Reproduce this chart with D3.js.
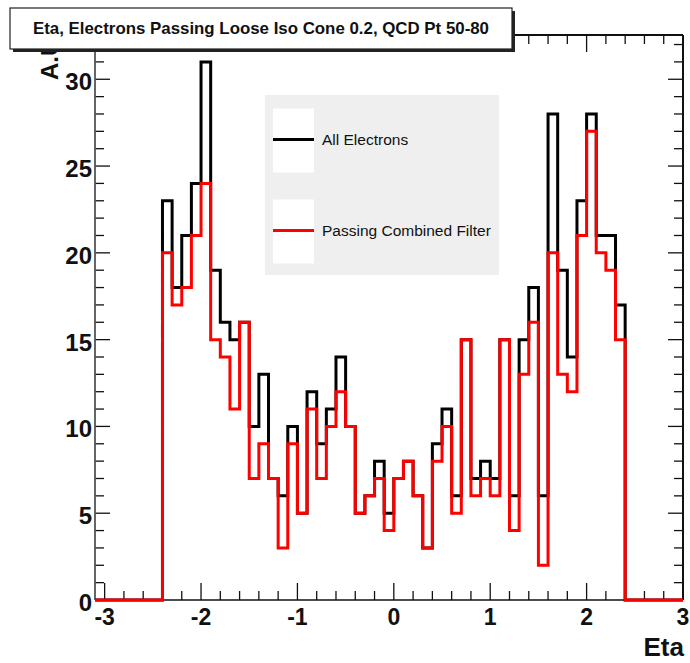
<!DOCTYPE html>
<html>
<head>
<meta charset="utf-8">
<script src="https://cdn.jsdelivr.net/npm/d3@7"></script>
<style>
  html, body { margin: 0; padding: 0; background: #fff; }
  svg { display: block; }
  text { font-family: "Liberation Sans", Arial, Helvetica, sans-serif; }
</style>
</head>
<body>
<svg id="chart" width="690" height="663"></svg>
<script>
// ---------------- data ----------------
const titleText = "Eta, Electrons Passing Loose Iso Cone 0.2, QCD Pt 50-80";
const xTitle = "Eta";
const yTitle = "A.U.";
const seriesNames = ["All Electrons", "Passing Combined Filter"];
const seriesColors = ["#000000", "#ff0000"];

const histRange = [-3.1, 3.0];      // histogram axis range
const firstFilledEdge = -2.4;       // lower edge of first filled bin
const binWidth = 0.1;

const allElectrons = [
  23, 18, 21, 24, 31, 19, 16, 15, 16, 10, 13, 7, 6, 10, 5, 12, 9, 11, 14, 10, 5, 6, 8, 5,
  7, 8, 6, 3, 9, 11, 6, 15, 7, 8, 7, 15, 6, 15, 18, 6, 28, 19, 14, 23, 28, 21, 21, 17
];
const passingFilter = [
  20, 17, 18, 21, 24, 15, 14, 11, 16, 7, 9, 7, 3, 9, 5, 11, 7, 10, 12, 10, 5, 6, 7, 4,
  7, 8, 6, 3, 8, 10, 5, 15, 6, 7, 6, 15, 4, 13, 16, 2, 20, 13, 12, 21, 27, 20, 19, 15
];

const xTickValues = [-3, -2, -1, 0, 1, 2, 3];
const yTickValues = [0, 5, 10, 15, 20, 25, 30];
const yMax = 32.55;

// ---------------- layout ----------------
const svg = d3.select("#chart");
const frame = { left: 95, right: 683, top: 35, bottom: 600 };

const x = d3.scaleLinear().domain(histRange).range([frame.left, frame.right]);
const y = d3.scaleLinear().domain([0, yMax]).range([frame.bottom, frame.top]);

// ---------------- axes / ticks ----------------
const xMinor = d3.range(-3, 3.0001, 0.2).map(v => +v.toFixed(1));
const yMinor = d3.range(0, 33, 1);

const tickG = svg.append("g").attr("stroke", "#111").attr("stroke-width", 1.3);

// bottom & top x ticks
xMinor.forEach(v => {
  const major = xTickValues.some(t => Math.abs(t - v) < 1e-6);
  const len = major ? 17 : 9;
  tickG.append("line").attr("x1", x(v)).attr("x2", x(v))
    .attr("y1", frame.bottom).attr("y2", frame.bottom - len);
  tickG.append("line").attr("x1", x(v)).attr("x2", x(v))
    .attr("y1", frame.top).attr("y2", frame.top + len);
});
// left & right y ticks
yMinor.forEach(v => {
  const major = v % 5 === 0;
  const len = major ? 15 : 9;
  tickG.append("line").attr("y1", y(v)).attr("y2", y(v))
    .attr("x1", frame.left).attr("x2", frame.left + len);
  tickG.append("line").attr("y1", y(v)).attr("y2", y(v))
    .attr("x1", frame.right).attr("x2", frame.right - len);
});

// frame lines
svg.append("line").attr("x1", frame.left).attr("x2", frame.left)
  .attr("y1", frame.top).attr("y2", frame.bottom).attr("stroke", "#555").attr("stroke-width", 1.8);
svg.append("line").attr("x1", frame.right).attr("x2", frame.right)
  .attr("y1", frame.top).attr("y2", frame.bottom).attr("stroke", "#111").attr("stroke-width", 2);
svg.append("line").attr("x1", frame.left).attr("x2", frame.right)
  .attr("y1", frame.top).attr("y2", frame.top).attr("stroke", "#111").attr("stroke-width", 2);
svg.append("line").attr("x1", frame.left).attr("x2", frame.right)
  .attr("y1", frame.bottom).attr("y2", frame.bottom).attr("stroke", "#111").attr("stroke-width", 1.6);

// tick labels
svg.append("g").selectAll("text").data(xTickValues).join("text")
  .attr("x", d => x(d)).attr("y", 625)
  .attr("text-anchor", "middle")
  .attr("font-size", 23).attr("font-weight", "bold").attr("fill", "#111")
  .text(d => d3.format("d")(d).replace("−", "-"));

svg.append("g").selectAll("text").data(yTickValues).join("text")
  .attr("x", 92).attr("y", d => y(d) + 11)
  .attr("text-anchor", "end")
  .attr("font-size", 24).attr("font-weight", "bold").attr("fill", "#111")
  .text(d => d);

// axis titles
svg.append("text").attr("x", 684).attr("y", 656)
  .attr("text-anchor", "end").attr("font-size", 26).attr("font-weight", "bold").attr("fill", "#111")
  .text(xTitle);
svg.append("text").attr("transform", "translate(58,32) rotate(-90)")
  .attr("text-anchor", "end").attr("font-size", 24).attr("font-weight", "bold").attr("fill", "#111")
  .text(yTitle);

// ---------------- histograms ----------------
function histPoints(values) {
  const pts = [[histRange[0], 0]];
  values.forEach((v, i) => pts.push([firstFilledEdge + i * binWidth, v]));
  pts.push([firstFilledEdge + values.length * binWidth, 0]);
  pts.push([histRange[1], 0]);
  return pts;
}
const stepLine = d3.line().x(d => x(d[0])).y(d => y(d[1])).curve(d3.curveStepAfter);

[allElectrons, passingFilter].forEach((vals, i) => {
  svg.append("path")
    .attr("d", stepLine(histPoints(vals)))
    .attr("fill", "none")
    .attr("stroke", seriesColors[i])
    .attr("stroke-width", 3)
    .attr("stroke-linejoin", "miter");
});

// ---------------- legend ----------------
const leg = svg.append("g");
leg.append("rect").attr("x", 265).attr("y", 95).attr("width", 234).attr("height", 180)
  .attr("fill", "#efefef");
const legRows = [139.5, 230.5];
legRows.forEach((cy, i) => {
  leg.append("rect").attr("x", 273).attr("y", cy - 31).attr("width", 41).attr("height", 64)
    .attr("fill", "#ffffff");
  leg.append("line").attr("x1", 273).attr("x2", 314).attr("y1", cy).attr("y2", cy)
    .attr("stroke", seriesColors[i]).attr("stroke-width", 3);
  leg.append("text").attr("x", 322).attr("y", cy + 5.5)
    .attr("font-size", 15.5).attr("fill", "#111").text(seriesNames[i]);
});

// ---------------- title box ----------------
const tb = svg.append("g");
tb.append("rect").attr("x", 13).attr("y", 11).attr("width", 502).attr("height", 41).attr("fill", "#222");
tb.append("rect").attr("x", 10).attr("y", 8).attr("width", 502).attr("height", 41)
  .attr("fill", "#fff").attr("stroke", "#222").attr("stroke-width", 1.2);
tb.append("text").attr("x", 261).attr("y", 34)
  .attr("text-anchor", "middle").attr("font-size", 17).attr("font-weight", "bold").attr("fill", "#111")
  .attr("textLength", 456).attr("lengthAdjust", "spacingAndGlyphs")
  .text(titleText);
</script>
</body>
</html>
